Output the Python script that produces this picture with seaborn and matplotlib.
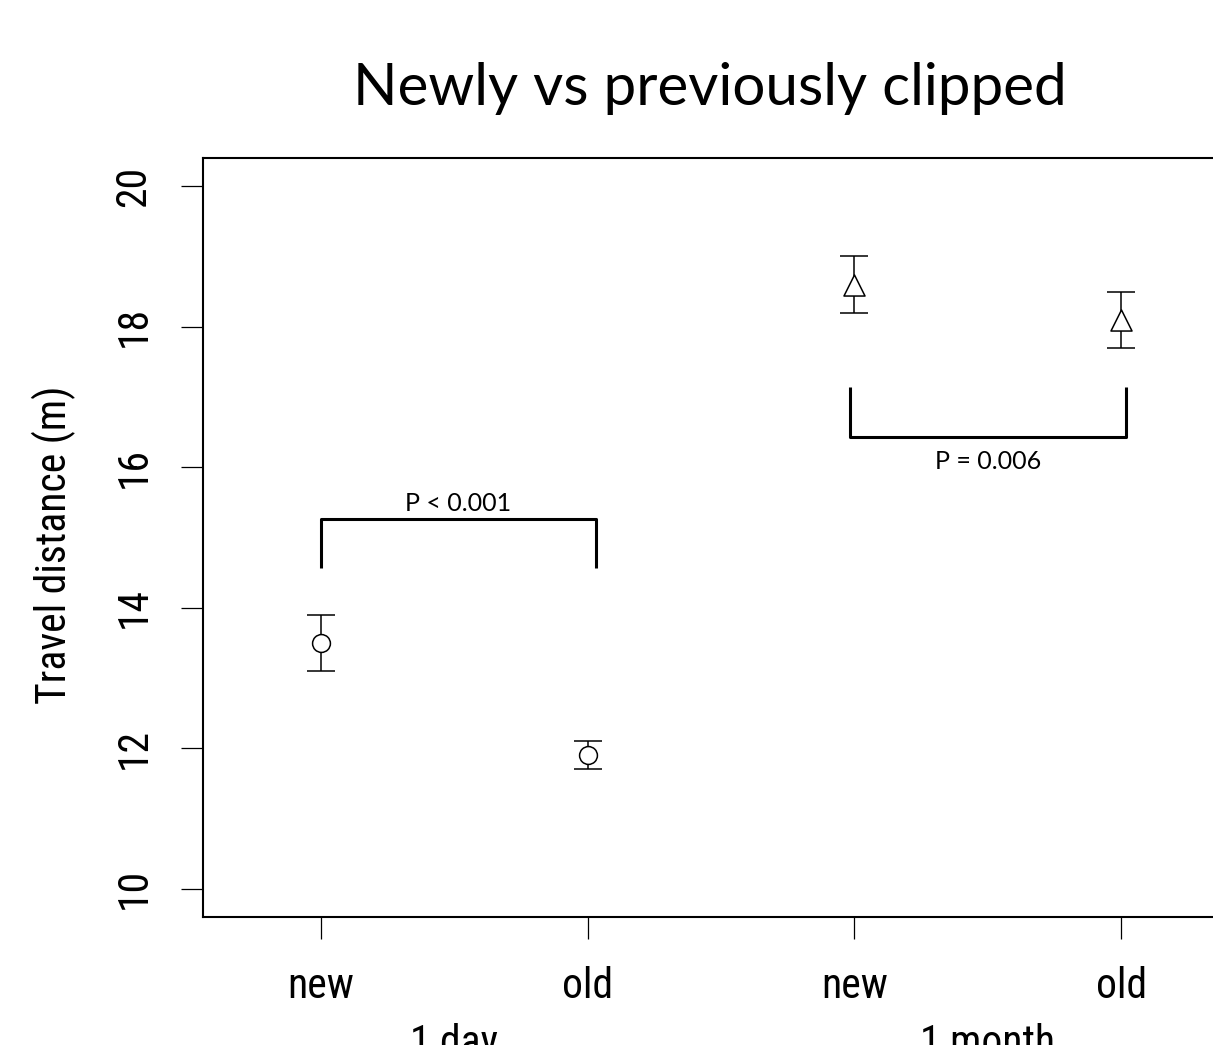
import pandas as pd
import seaborn as sns
import matplotlib.pyplot as plt
from matplotlib import font_manager

# ===== data =====
clip = ["new", "old", "new", "old"]
period = ["1 day", "1 day", "1 month", "1 month"]
mean_dist = [13.5, 11.9, 18.6, 18.1]
se_dist = [0.4, 0.2, 0.4, 0.4]
period_names = ["1 day", "1 month"]
period_markers = {"1 day": "o", "1 month": "^"}
period_sizes = {"1 day": 165, "1 month": 230}

# significance brackets (x in category positions, y in metres)
bracket_x = [[0.0, 1.03], [1.984, 3.02]]
bracket_top = [15.26, 16.43]
bracket_end = [14.56, 17.14]
p_text = ["P < 0.001", "P = 0.006"]
p_y = [15.38, 15.97]

df = pd.DataFrame({"clip": clip, "period": period, "mean": mean_dist, "se": se_dist})
df["pos"] = range(len(df))

sns.set_style("ticks")
# narrow helvetica-like if there is one, else plain liberation sans
names = set(f.name for f in font_manager.fontManager.ttflist)
narrow = [n for n in ["Liberation Sans Narrow", "Arial Narrow", "Roboto Condensed"] if n in names]
axis_font = narrow + ["Liberation Sans", "DejaVu Sans"]
axis_size = 30 if narrow else 29
plt.rcParams["font.family"] = axis_font
plt.rcParams["text.color"] = "black"
plt.rcParams["axes.labelcolor"] = "black"
plt.rcParams["xtick.color"] = "black"
plt.rcParams["ytick.color"] = "black"

fig = plt.figure(figsize=(12.13, 10.45), dpi=100)
ax = fig.add_axes([0.1674, 0.1225, 0.8795, 0.7263])

# ===== error bars, then open markers on top =====
ax.errorbar(df["pos"], df["mean"], yerr=df["se"], fmt="none", ecolor="black",
            elinewidth=1.1, capsize=10, capthick=1.1, zorder=2)
for p in period_names:
    sub = df[df["period"] == p]
    sns.scatterplot(ax=ax, x="pos", y="mean", data=sub, marker=period_markers[p],
                    s=period_sizes[p], facecolor="white", edgecolor="black",
                    linewidth=1.1, zorder=3, legend=False)

# ===== significance brackets =====
for i in range(len(bracket_x)):
    x0, x1 = bracket_x[i]
    ax.plot([x0, x0, x1, x1], [bracket_end[i], bracket_top[i], bracket_top[i], bracket_end[i]],
            color="black", lw=2.2, solid_capstyle="butt", zorder=1)
    ax.text((x0 + x1) / 2, p_y[i], p_text[i], ha="center", va="baseline",
            fontsize=18, color="black", family=["Lato", "DejaVu Sans"])

# ===== axes =====
ax.set_xlim(-0.442, 3.558)
ax.set_ylim(9.6, 20.4)
ax.set_xticks(df["pos"])
ax.set_xticklabels(df["clip"])
ax.set_yticks([10, 12, 14, 16, 18, 20])
ax.set_yticklabels(["10", "12", "14", "16", "18", "20"], rotation=90, va="center")
ax.tick_params(axis="both", length=16, width=0.9, labelsize=axis_size, pad=19,
               color="black", labelcolor="black")
ax.set_xlabel("")
ax.set_ylabel("Travel distance (m)", fontsize=axis_size, va="center", color="black")
ax.yaxis.set_label_coords(-0.1397, 0.49)
for side in ["left", "bottom", "top"]:
    ax.spines[side].set_linewidth(1.5)
    ax.spines[side].set_color("black")

# period labels under the tick labels (cut off by the figure edge)
for i in range(len(period_names)):
    xs = df.loc[df["period"] == period_names[i], "pos"]
    ax.text(xs.mean(), -0.1818, period_names[i], transform=ax.get_xaxis_transform(),
            ha="center", va="baseline", fontsize=axis_size, color="black", clip_on=False)

fig.text(710 / 1213, 1 - 105 / 1045, "Newly vs previously clipped", ha="center",
         va="baseline", fontsize=42, color="black", family=["Lato", "DejaVu Sans"])

plt.savefig("out.png", dpi=100)
